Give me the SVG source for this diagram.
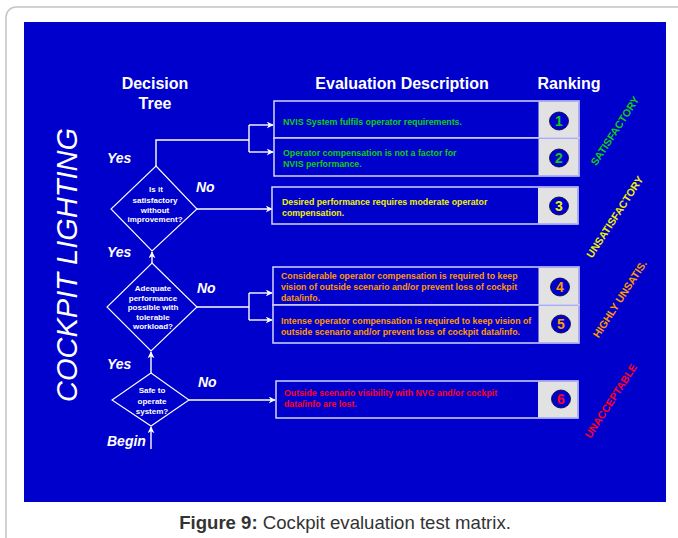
<svg xmlns="http://www.w3.org/2000/svg" width="678" height="538" viewBox="0 0 678 538">
<defs>
<style>
text{font-family:"Liberation Sans",Arial,sans-serif}
.hdr{font-size:16px;font-weight:bold;fill:#fff;text-anchor:middle}
.yn{font-size:14px;font-weight:bold;font-style:italic;fill:#fff}
.dt{font-size:8px;font-weight:bold;fill:#fff;text-anchor:middle}
.bt{font-size:8.8px;font-weight:bold}
.box{fill:#0000cc;stroke:#d4d4ff;stroke-width:1.5}
.cell{fill:#e2e2e2}
.circ{fill:#0000cc;stroke:#000033;stroke-width:0.8}
.num{font-size:14px;font-weight:bold;text-anchor:middle}
.rk{font-size:10.5px;font-weight:bold;text-anchor:middle}
.dia{fill:none;stroke:#fff;stroke-width:1.1}
.con{fill:none;stroke:#fff;stroke-width:1.4}
.g{fill:#11cc11}.y{fill:#f0f000}.o{fill:#ff9900}.r{fill:#ff0022}
</style>
<marker id="ah" viewBox="0 0 10 10" refX="9" refY="5" markerWidth="7" markerHeight="7" markerUnits="userSpaceOnUse" orient="auto">
<path d="M0,0 L10,5 L0,10 L3,5 z" fill="#fff"/>
</marker>
</defs>
<rect x="6" y="7" width="700" height="560" rx="10" fill="#fff" stroke="#c4c4c4" stroke-width="1.5"/>
<rect x="24" y="22" width="642" height="480" fill="#0000cc"/>
<text x="345" y="529" font-size="18.6" fill="#333" text-anchor="middle"><tspan font-weight="bold">Figure 9:</tspan> Cockpit evaluation test matrix.</text>

<text transform="translate(77,265) rotate(-90)" font-size="29" font-style="italic" fill="#fff" text-anchor="middle">COCKPIT LIGHTING</text>

<text class="hdr" x="155" y="89">Decision</text>
<text class="hdr" x="155" y="109">Tree</text>
<text class="hdr" x="402" y="89">Evaluation Description</text>
<text class="hdr" x="569" y="89">Ranking</text>

<g id="connectors">
<polyline class="con" points="156,166 156,140 249,140"/>
<line class="con" x1="249" y1="125" x2="249" y2="152"/>
<line class="con" x1="249" y1="125" x2="273" y2="125" marker-end="url(#ah)"/>
<line class="con" x1="249" y1="152" x2="273" y2="152" marker-end="url(#ah)"/>
<line class="con" x1="197" y1="209" x2="272" y2="209" marker-end="url(#ah)"/>
<line class="con" x1="152" y1="263" x2="152" y2="252" marker-end="url(#ah)"/>
<polyline class="con" points="197,307 249,307"/>
<line class="con" x1="249" y1="293" x2="249" y2="320"/>
<line class="con" x1="249" y1="293" x2="272" y2="293" marker-end="url(#ah)"/>
<line class="con" x1="249" y1="320" x2="272" y2="320" marker-end="url(#ah)"/>
<line class="con" x1="151" y1="373" x2="151" y2="352" marker-end="url(#ah)"/>
<line class="con" x1="189" y1="400" x2="275" y2="400" marker-end="url(#ah)"/>
<line class="con" x1="151" y1="449" x2="151" y2="427" marker-end="url(#ah)"/>
</g>

<g id="labels">
<text class="yn" x="107" y="163">Yes</text>
<text class="yn" x="107" y="257">Yes</text>
<text class="yn" x="107" y="369">Yes</text>
<text class="yn" x="196" y="192">No</text>
<text class="yn" x="197" y="293">No</text>
<text class="yn" x="198" y="387">No</text>
<text class="yn" x="107" y="446" font-size="13">Begin</text>
</g>

<g id="d1">
<polygon class="dia" points="156,166 197,209 152,251 111,209"/>
<text class="dt" x="156" y="192">Is it</text>
<text class="dt" x="155" y="202.5">satisfactory</text>
<text class="dt" x="155" y="212.5">without</text>
<text class="dt" x="155" y="222">improvement?</text>
</g>
<g id="d2">
<polygon class="dia" points="152,263 197,307 151,351 107,307"/>
<text class="dt" x="153" y="291">Adequate</text>
<text class="dt" x="153" y="300.5">performance</text>
<text class="dt" x="153" y="310">possible with</text>
<text class="dt" x="153" y="319.5">tolerable</text>
<text class="dt" x="153" y="329">workload?</text>
</g>
<g id="d3">
<polygon class="dia" points="151,373 189,400 151,426 112,400"/>
<text class="dt" x="152" y="393">Safe to</text>
<text class="dt" x="152" y="404">operate</text>
<text class="dt" x="152" y="414">system?</text>
</g>

<g id="box1">
<rect class="box" x="274" y="101" width="305" height="37"/>
<rect class="cell" x="538.5" y="101.8" width="39.7" height="35.5"/>
<text class="bt g" x="283" y="125">NVIS System fulfils operator requirements.</text>
<ellipse class="circ" cx="559" cy="121" rx="9.5" ry="9"/>
<text class="num g" x="559" y="126">1</text>
</g>
<g id="box2">
<rect class="box" x="274" y="138" width="305" height="38"/>
<rect class="cell" x="538.5" y="138.8" width="39.7" height="36.5"/>
<text class="bt g" x="283" y="156">Operator compensation is not a factor for</text>
<text class="bt g" x="283" y="167">NVIS performance.</text>
<ellipse class="circ" cx="559" cy="158" rx="9.5" ry="9"/>
<text class="num g" x="559" y="163">2</text>
</g>
<g id="box3">
<rect class="box" x="272" y="187" width="306" height="37"/>
<rect class="cell" x="538" y="187.8" width="39.2" height="35.5"/>
<text class="bt y" x="282" y="205">Desired performance requires moderate operator</text>
<text class="bt y" x="282" y="215.5">compensation.</text>
<ellipse class="circ" cx="559" cy="206" rx="9.5" ry="9"/>
<text class="num y" x="559" y="211">3</text>
</g>
<g id="box4">
<rect class="box" x="273" y="267" width="306" height="38"/>
<rect class="cell" x="538.5" y="267.8" width="39.7" height="36.5"/>
<text class="bt o" x="281" y="279">Considerable operator compensation is required to keep</text>
<text class="bt o" x="281" y="290">vision of outside scenario and/or prevent loss of cockpit</text>
<text class="bt o" x="281" y="300.5">data/info.</text>
<ellipse class="circ" cx="560" cy="287" rx="9.5" ry="9"/>
<text class="num o" x="560" y="292">4</text>
</g>
<g id="box5">
<rect class="box" x="273" y="305" width="306" height="38"/>
<rect class="cell" x="538.5" y="305.8" width="39.7" height="36.5"/>
<text class="bt o" x="281" y="324">Intense operator compensation is required to keep vision of</text>
<text class="bt o" x="281" y="334.5">outside scenario and/or prevent loss of cockpit data/info.</text>
<ellipse class="circ" cx="561" cy="324" rx="9.5" ry="9"/>
<text class="num o" x="561" y="329">5</text>
</g>
<g id="box6">
<rect class="box" x="276" y="381" width="302" height="37"/>
<rect class="cell" x="538" y="381.8" width="39.2" height="35.5"/>
<text class="bt r" x="284" y="396">Outside scenario visibility with NVG and/or cockpit</text>
<text class="bt r" x="284" y="407">data/info are lost.</text>
<ellipse class="circ" cx="561" cy="399" rx="9.5" ry="9"/>
<text class="num r" x="561" y="404">6</text>
</g>

<g id="rankings">
<text class="rk g" transform="translate(615,131) rotate(-57)" y="3.5">SATISFACTORY</text>
<text class="rk y" transform="translate(615,217) rotate(-57)" y="3.5">UNSATISFACTORY</text>
<text class="rk o" transform="translate(620,299) rotate(-57)" y="3.5">HIGHLY UNSATIS.</text>
<text class="rk r" transform="translate(611,401) rotate(-57)" y="3.5">UNACCEPTABLE</text>
</g>
</svg>
